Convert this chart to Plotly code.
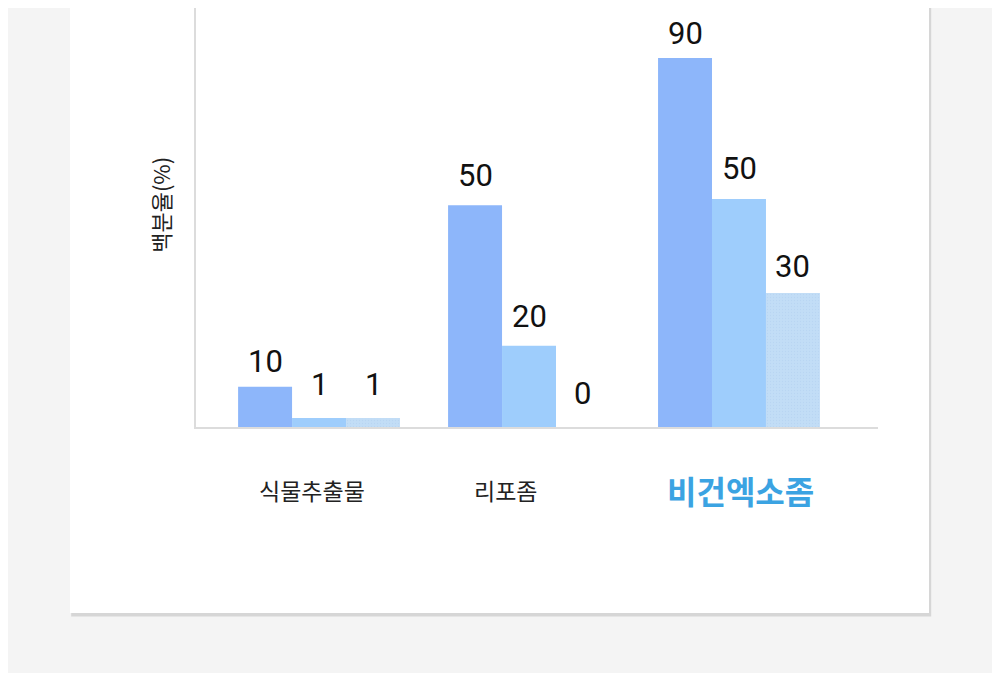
import plotly.graph_objects as go

# categories and labelled values (percent)
categories = ["식물추출물", "리포좀", "비건엑소좀"]
values_1 = [10, 50, 90]
values_2 = [1, 20, 50]
values_3 = [1, 0, 30]

# bar heights as drawn in the picture (not strictly to scale)
heights_1 = [9.8, 54.1, 90]
heights_2 = [2.2, 19.8, 55.6]
heights_3 = [2.2, 0, 32.7]

COLORS = ["#8db6fa", "#9ecdfc", "#c2ddf6"]
BARGAP = 0.229
BAR_W = (1 - BARGAP) / 3
label_shift = [-7, -24, 1]
label_lift = [[5, 13, 13], [9, 9, 13], [4, 10, 6]]  # yshift per label, px

x = list(range(len(categories)))
fig = go.Figure()
for j, h in enumerate([heights_1, heights_2, heights_3]):
    marker = dict(color=COLORS[j], line=dict(width=0))
    if j == 2:
        marker["pattern"] = dict(shape=".", size=3, solidity=0.2,
                                 fgcolor="#afceee", bgcolor=COLORS[j])
    fig.add_trace(go.Bar(x=x, y=h, marker=marker, hoverinfo="skip"))

# value labels on top of bars
for j, (h, v) in enumerate(zip([heights_1, heights_2, heights_3],
                               [values_1, values_2, values_3])):
    for i in x:
        fig.add_annotation(x=i + (j - 1) * BAR_W, y=h[i], text=str(v[i]),
                           showarrow=False, yanchor="bottom",
                           yshift=label_lift[i][j],
                           font=dict(family="Roboto", size=31, color="#111111"))

# category labels
for i, c in enumerate(categories):
    last = i == len(categories) - 1
    fig.add_annotation(x=i, y=-0.150, yref="paper", xshift=label_shift[i],
                       text="<b>" + c + "</b>" if last else c, showarrow=False,
                       yanchor="middle",
                       font=dict(family="Noto Sans CJK KR",
                                 size=32 if last else 23,
                                 color="#3ba3e2" if last else "#222222"))

fig.add_annotation(x=-0.053, y=0.530, xref="paper", yref="paper",
                   xanchor="center", yanchor="middle",
                   text="백분율(%)", textangle=-90, showarrow=False,
                   font=dict(family="Noto Sans CJK KR", size=22, color="#222222"))

# card with a soft shadow
fig.add_shape(type="rect", xref="paper", yref="paper", layer="below",
              x0=-0.183, x1=1.078, y0=-0.452, y1=1.05,
              fillcolor="#d6d6d6", line_width=0)
fig.add_shape(type="rect", xref="paper", yref="paper", layer="below",
              x0=-0.1848, x1=1.0748, y0=-0.4439, y1=1.05,
              fillcolor="white", line_width=0)

fig.update_layout(
    width=992, height=665,
    margin=dict(l=188, r=122, t=0, b=246),
    paper_bgcolor="#f4f4f4", plot_bgcolor="rgba(0,0,0,0)",
    barmode="group", bargap=BARGAP, bargroupgap=0,
    showlegend=False,
    xaxis=dict(range=[-0.586, 2.662], showticklabels=False, showgrid=False,
               zeroline=False, showline=True, linecolor="#dcdcdc", linewidth=1.5,
               ticks=""),
    yaxis=dict(range=[0, 102.2], showticklabels=False, showgrid=False,
               zeroline=False, showline=True, linecolor="#dcdcdc", linewidth=1.5,
               ticks=""),
)
fig.write_html("out.html")
